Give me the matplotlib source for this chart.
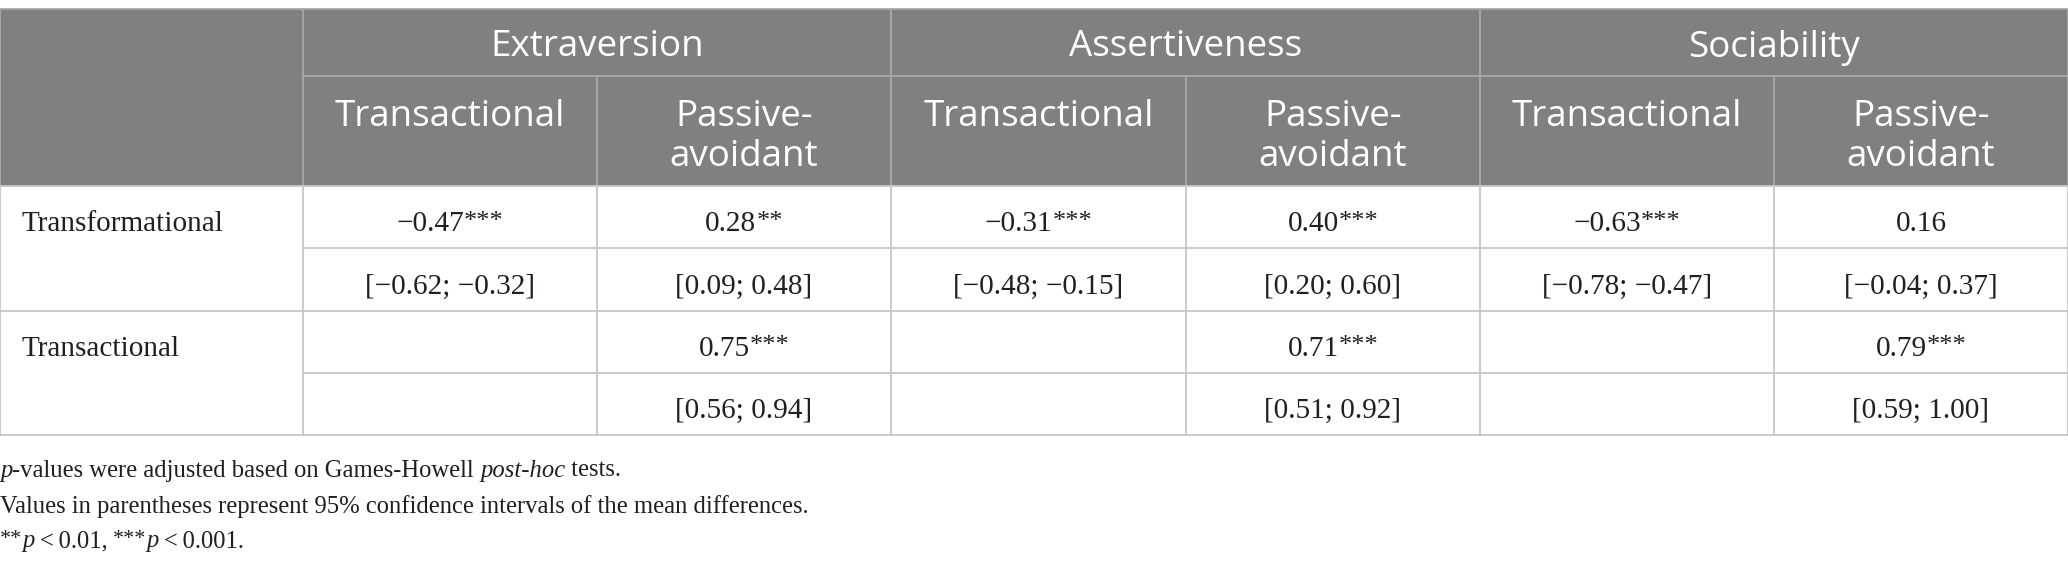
import matplotlib
matplotlib.use('Agg')
import matplotlib.pyplot as plt
from matplotlib.patches import Rectangle

# ---------------- data ----------------
groups = ['Extraversion', 'Assertiveness', 'Sociability']
subcols = [['Transactional'], ['Passive-', 'avoidant']]
row_labels = ['Transformational', 'Transactional']
estimates = [['\u22120.47', '0.28', '\u22120.31', '0.40', '\u22120.63', '0.16'],
             ['', '0.75', '', '0.71', '', '0.79']]
stars = [['***', '**', '***', '***', '***', ''],
         ['', '***', '', '***', '', '***']]
cis = [['[\u22120.62; \u22120.32]', '[0.09; 0.48]', '[\u22120.48; \u22120.15]',
        '[0.20; 0.60]', '[\u22120.78; \u22120.47]', '[\u22120.04; 0.37]'],
       ['', '[0.56; 0.94]', '', '[0.51; 0.92]', '', '[0.59; 1.00]']]
footnote1 = [('p', 'italic'), ('-values were adjusted based on Games-Howell ', 'normal'),
             ('post-hoc', 'italic'), (' tests.', 'normal')]
footnote2 = [('Values in parentheses represent 95% confidence intervals of the mean differences.', 'normal')]
footnote3 = [('**', 'star'), ('p', 'italic'), ('\u2009<\u20090.01, ', 'normal'),
             ('***', 'star'), ('p', 'italic'), ('\u2009<\u20090.001.', 'normal')]

# ---------------- layout (pixels) ----------------
W, H = 2068, 568
col_x = [0, 303, 597, 891, 1186, 1480, 1774, 2068]
top, hmid, hbot = 9, 76, 186
row_y = [186, 248, 311, 373, 435]
header_bg = '#808080'
header_line = '#a8a8a8'
body_line = '#c6c6c6'
txt = '#231f20'
serif = ['Liberation Serif', 'DejaVu Serif']
sans = ['Open Sans', 'DejaVu Sans']
hsize = 26.5
bsize = 21.1
fsize = 17.7
body_dy = 4

fig = plt.figure(figsize=(W / 100, H / 100), dpi=100)
ax = fig.add_axes([0, 0, 1, 1])
ax.set_xlim(0, W)
ax.set_ylim(H, 0)
ax.axis('off')
renderer = fig.canvas.get_renderer()

# header background
ax.add_patch(Rectangle((0, top), W, hbot - top, facecolor=header_bg, edgecolor='none', zorder=0))

lw = 1.3
# header lines
ax.plot([0, W], [top, top], color=header_line, lw=lw)
ax.plot([col_x[1], W], [hmid, hmid], color=header_line, lw=lw)
for i in (0, 1, 3, 5, 7):
    ax.plot([col_x[i], col_x[i]], [top, hbot], color=header_line, lw=lw)
for i in (2, 4, 6):
    ax.plot([col_x[i], col_x[i]], [hmid, hbot], color=header_line, lw=lw)
# body lines
ax.plot([0, W], [hbot, hbot], color=body_line, lw=lw)
for j, yy in enumerate(row_y[1:]):
    x0 = col_x[1] if j % 2 == 0 else 0
    ax.plot([x0, W], [yy, yy], color=body_line, lw=lw)
for xx in col_x:
    ax.plot([xx, xx], [hbot, row_y[-1]], color=body_line, lw=lw)

# header texts
for g, name in enumerate(groups):
    cx = (col_x[1 + 2 * g] + col_x[3 + 2 * g]) / 2
    ax.text(cx, (top + hmid) / 2 + 5, name, ha='center', va='center', color='white',
            fontsize=hsize, family=sans)
    for s, lines in enumerate(subcols):
        c = 1 + 2 * g + s
        cx2 = (col_x[c] + col_x[c + 1]) / 2
        for k, line in enumerate(lines):
            ax.text(cx2, 117 + 40 * k, line, ha='center', va='center', color='white',
                    fontsize=hsize, family=sans)


def width(t):
    return t.get_window_extent(renderer).width


# body texts
for r, lab in enumerate(row_labels):
    ya = (row_y[2 * r] + row_y[2 * r + 1]) / 2 + body_dy
    yb = (row_y[2 * r + 1] + row_y[2 * r + 2]) / 2 + body_dy
    ax.text(22, ya, lab, ha='left', va='center_baseline', color=txt, fontsize=bsize, family=serif)
    for c in range(6):
        cx = (col_x[c + 1] + col_x[c + 2]) / 2
        if estimates[r][c]:
            t1 = ax.text(cx, ya, estimates[r][c], ha='left', va='center_baseline', color=txt,
                         fontsize=bsize, family=serif)
            t2 = ax.text(cx, ya - 2, stars[r][c], ha='left', va='center_baseline', color=txt,
                         fontsize=bsize * 0.9, family=serif)
            w1 = width(t1)
            w2 = width(t2) if stars[r][c] else 0
            start = cx - (w1 + w2) / 2
            t1.set_x(start)
            t2.set_x(start + w1)
        if cis[r][c]:
            ax.text(cx, yb, cis[r][c], ha='center', va='center_baseline', color=txt,
                    fontsize=bsize, family=serif)


def draw_runs(x, y, runs):
    for s, style in runs:
        fs = fsize * 0.9 if style == 'star' else fsize
        yy = y - 2 if style == 'star' else y
        st = 'italic' if style == 'italic' else 'normal'
        t = ax.text(x, yy, s, ha='left', va='center_baseline', color=txt, fontsize=fs,
                    family=serif, style=st)
        x += width(t)


draw_runs(0, 468, footnote1)
draw_runs(0, 504, footnote2)
draw_runs(0, 539, footnote3)

fig.savefig('out.png', dpi=100, facecolor='white')
